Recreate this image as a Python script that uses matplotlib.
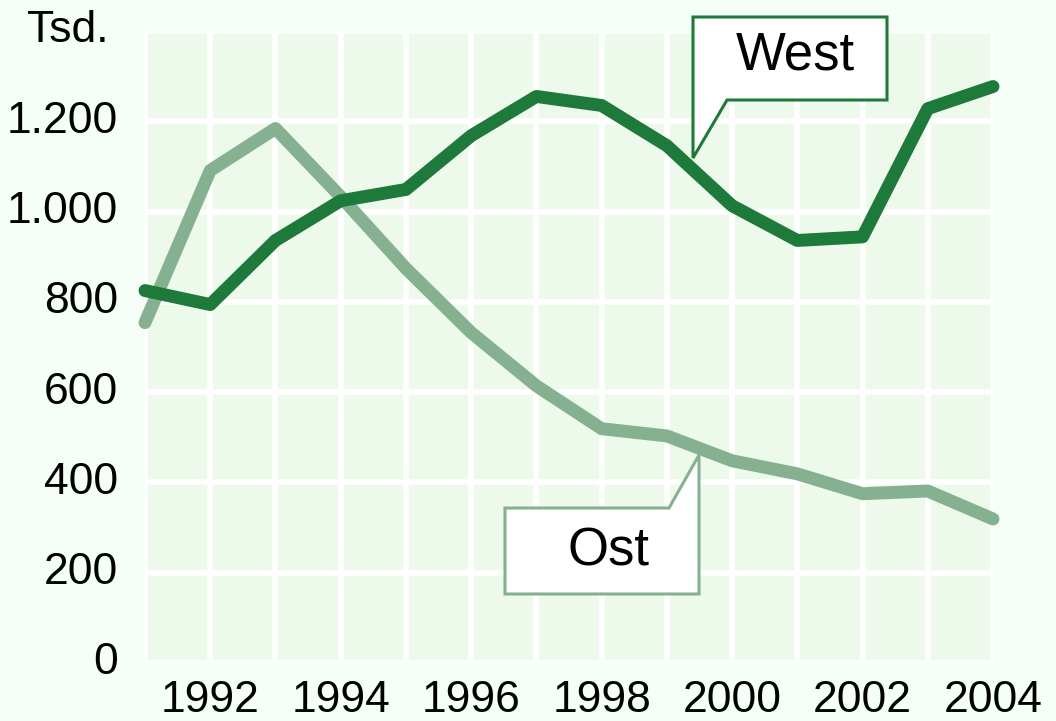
import matplotlib
matplotlib.use("Agg")
import matplotlib.pyplot as plt
from matplotlib.patches import Polygon

years = list(range(1991, 2005))
west = [825, 794, 936, 1024, 1049, 1168, 1255, 1235, 1146, 1013, 936, 944, 1228, 1277]
ost = [754, 1091, 1184, 1033, 874, 732, 614, 519, 503, 448, 419, 375, 381, 319]
yticks = [0, 200, 400, 600, 800, 1000, 1200]
ytick_labels = ["0", "200", "400", "600", "800", "1.000", "1.200"]
xticks = [1992, 1994, 1996, 1998, 2000, 2002, 2004]

W, H = 1056, 721
plt.rcParams['font.family'] = ['Liberation Sans', 'DejaVu Sans']
fig = plt.figure(figsize=(W / 100, H / 100), dpi=100)
fig.patch.set_facecolor('#F6FEF8')

def fx(px):
    return px / W

def fy(py):
    return 1 - py / H

left, right, top, bottom = 145, 993, 31, 663
ax = fig.add_axes([fx(left), fy(bottom), fx(right - left), (bottom - top) / H])
ax.set_facecolor('#EDF9EB')
ax.set_xlim(1991.05, 2003.95)
ax.set_ylim(0, 1400)
for s in ax.spines.values():
    s.set_visible(False)
ax.set_xticks(range(1991, 2005), minor=False)
ax.set_yticks(range(0, 1401, 200))
ax.grid(True, color='white', linewidth=4)
ax.set_axisbelow(True)
ax.tick_params(length=0, labelleft=False, labelbottom=False)

dark = '#1E7A3A'
light = '#86B190'
ax.plot(years, ost, color=light, lw=9.3, solid_capstyle='round', solid_joinstyle='round', clip_on=False, zorder=3)
ax.plot(years, west, color=dark, lw=9.3, solid_capstyle='round', solid_joinstyle='round', clip_on=False, zorder=4)

# tick labels
for v, lab in zip(yticks, ytick_labels):
    ax.text(fx(118), v, lab, transform=matplotlib.transforms.blended_transform_factory(fig.transFigure, ax.transData),
            ha='right', va='center', fontsize=32)
for x in xticks:
    ax.text(x, fy(700), str(x), transform=matplotlib.transforms.blended_transform_factory(ax.transData, fig.transFigure),
            ha='center', va='center', fontsize=32)
fig.text(fx(68), fy(31), "Tsd.", ha='center', va='center', fontsize=32)

# callouts
west_poly = [(693, 17), (887, 17), (887, 100), (727, 100), (693, 158)]
ost_poly = [(505, 508), (669, 508), (699, 455), (699, 594), (505, 594)]
for pts, col in ((west_poly, dark), (ost_poly, light)):
    p = Polygon([(fx(a), fy(b)) for a, b in pts], closed=True, transform=fig.transFigure,
                facecolor='white', edgecolor=col, linewidth=2.2, zorder=10, joinstyle='miter')
    fig.add_artist(p)
fig.text(fx(795), fy(56), "West", ha='center', va='center', fontsize=38, zorder=11)
fig.text(fx(608), fy(551), "Ost", ha='center', va='center', fontsize=38, zorder=11)

fig.savefig('out.png', dpi=100, facecolor=fig.get_facecolor())
